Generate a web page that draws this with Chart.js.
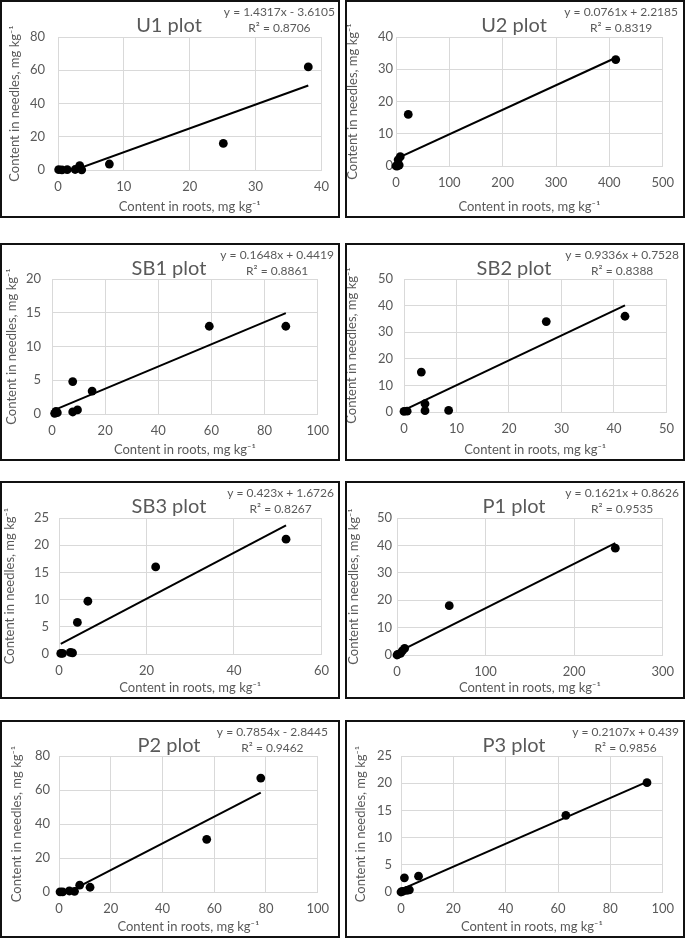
<!DOCTYPE html>
<html>
<head>
<meta charset="utf-8">
<script src="https://cdn.jsdelivr.net/npm/chart.js@4/dist/chart.umd.min.js"></script>
<style>
    body { margin: 0; background: #fff; }
    .panel { position: absolute; width: 340px; height: 218px; box-sizing: border-box; border: 2px solid #111; background: #fff; }
    .panel canvas { display: block; }
</style>
</head>
<body>
<div id="charts"></div>
<script>
// valores (raices, agujas)
const u1Roots = [0.1, 0.6, 1.4, 2.6, 3.3, 3.6, 7.8, 25.1, 38.0];
const u1Needles = [0.2, 0.1, 0.2, 0.3, 2.6, 0.1, 3.6, 16, 62];
const u2Roots = [0, 3, 6, 4, 8, 23, 412];
const u2Needles = [0, 0, 0.3, 1.9, 2.9, 16, 33];
const sb1Roots = [1, 1.5, 2, 7.8, 7.8, 9.6, 15.1, 59.2, 88];
const sb1Needles = [0.1, 0.4, 0.2, 4.8, 0.3, 0.6, 3.4, 13, 13];
const sb2Roots = [0, 0.6, 3.3, 4.0, 4.0, 8.5, 27.1, 42.1];
const sb2Needles = [0.2, 0.3, 15, 3.1, 0.5, 0.6, 34, 36];
const sb3Roots = [0.4, 0.8, 2.6, 3.1, 4.2, 6.6, 22.1, 51.9];
const sb3Needles = [0.1, 0.1, 0.3, 0.2, 5.8, 9.7, 16, 21.1];
const p1Roots = [0, 1, 4, 6, 8.6, 59, 246.5];
const p1Needles = [0, 0.2, 0.6, 1.5, 2.4, 18, 39];
const p2Roots = [0.4, 1.4, 4, 6, 8, 12, 57.1, 78];
const p2Needles = [0.1, 0.1, 0.6, 0.4, 4, 2.8, 31, 67];
const p3Roots = [0, 0.6, 1.3, 2.2, 3.2, 6.7, 63, 94];
const p3Needles = [0, 0.1, 2.6, 0.3, 0.4, 2.9, 14.1, 20.1];

const titulos = ['U1 plot', 'U2 plot', 'SB1 plot', 'SB2 plot', 'SB3 plot', 'P1 plot', 'P2 plot', 'P3 plot'];
const pendientes = [1.4317, 0.0761, 0.1648, 0.9336, 0.423, 0.1621, 0.7854, 0.2107];
const intercepciones = [-3.6105, 2.2185, 0.4419, 0.7528, 1.6726, 0.8626, -2.8445, 0.439];
const ecuaciones = ['y = 1.4317x - 3.6105', 'y = 0.0761x + 2.2185', 'y = 0.1648x + 0.4419', 'y = 0.9336x + 0.7528',
    'y = 0.423x + 1.6726', 'y = 0.1621x + 0.8626', 'y = 0.7854x - 2.8445', 'y = 0.2107x + 0.439'];
const r2Textos = ['R² = 0.8706', 'R² = 0.8319', 'R² = 0.8861', 'R² = 0.8388', 'R² = 0.8267', 'R² = 0.9535', 'R² = 0.9462', 'R² = 0.9856'];
const xMaximos = [40, 500, 100, 50, 60, 300, 100, 100];
const xPasos = [10, 100, 20, 10, 20, 100, 20, 20];
const yMaximos = [80, 40, 20, 50, 25, 50, 80, 25];
const yPasos = [20, 10, 5, 10, 5, 10, 20, 5];

const raices = [u1Roots, u2Roots, sb1Roots, sb2Roots, sb3Roots, p1Roots, p2Roots, p3Roots];
const agujas = [u1Needles, u2Needles, sb1Needles, sb2Needles, sb3Needles, p1Needles, p2Needles, p3Needles];

// posicion de cada panel y su area de trazado [izq, der, arriba, abajo, padTicksY, tituloY_x, ecuacionDer]
const paneles = [[0, 0], [345, 0], [0, 243], [345, 243], [0, 481], [345, 481], [0, 720], [345, 720]];
const areas = [
    [56, 321, 35, 168, 13, 13, 333],
    [49, 318, 35, 164, 3, 6, 331],
    [50, 317, 34, 169, 11, 10, 332],
    [57, 321, 34, 167, 11, 5, 332],
    [57, 321, 35, 171, 10, 8, 332],
    [50, 318, 35, 172, 5, 7, 332],
    [57, 318, 34, 170, 9, 15, 326],
    [54, 318, 34, 170, 9, 14, 332]
];

const ANCHO = 336, ALTO = 214;
const GRIS = '#595959';
const FUENTE = 'Lato';

const etiquetas = {
    id: 'etiquetas',
    afterDraw(chart, args, opts) {
        const ctx = chart.ctx;
        ctx.save();
        ctx.fillStyle = GRIS;
        ctx.textAlign = 'center';
        ctx.textBaseline = 'middle';
        ctx.font = '20px ' + FUENTE;
        ctx.fillText(opts.titulo, 167, 24);
        ctx.font = '12px ' + FUENTE;
        const w = ctx.measureText(opts.ecuacion).width;
        const cx = opts.derecha - w / 2;
        ctx.fillText(opts.ecuacion, cx, 10);
        ctx.fillText(opts.r2, cx, 26);
        ctx.restore();
    }
};

function crearPanel(i) {
    const div = document.createElement('div');
    div.className = 'panel';
    div.style.left = paneles[i][0] + 'px';
    div.style.top = paneles[i][1] + 'px';
    const canvas = document.createElement('canvas');
    canvas.width = ANCHO;
    canvas.height = ALTO;
    div.appendChild(canvas);
    document.getElementById('charts').appendChild(div);

    const [izq, der, arriba, abajo, padY, tituloX, ecDer] = areas[i];
    const xs = raices[i];
    const puntos = xs.map((x, k) => ({x: x, y: agujas[i][k]}));
    const xMin = Math.min(...xs), xMax = Math.max(...xs);
    const tendencia = [xMin, xMax].map(x => ({x: x, y: pendientes[i] * x + intercepciones[i]}));

    new Chart(canvas.getContext('2d'), {
        type: 'scatter',
        data: {
            datasets: [{
                data: puntos,
                backgroundColor: '#000',
                borderColor: '#000',
                pointRadius: 4.4,
                borderWidth: 0,
                clip: false,
                order: 1
            }, {
                type: 'line',
                data: tendencia,
                borderColor: '#000',
                borderWidth: 2,
                pointRadius: 0,
                fill: false,
                order: 2
            }]
        },
        options: {
            responsive: false,
            animation: false,
            layout: { padding: { left: 0, top: arriba, right: ANCHO - der, bottom: 0 } },
            plugins: {
                legend: { display: false },
                tooltip: { enabled: false },
                etiquetas: { titulo: titulos[i], ecuacion: ecuaciones[i], r2: r2Textos[i], derecha: ecDer }
            },
            scales: {
                x: {
                    type: 'linear',
                    min: 0,
                    max: xMaximos[i],
                    grid: { color: '#d9d9d9', drawTicks: false },
                    border: { color: '#d9d9d9' },
                    ticks: { stepSize: xPasos[i], color: GRIS, font: { family: FUENTE, size: 13 }, padding: 9 },
                    title: {
                        display: true,
                        text: 'Content in roots, mg kg⁻¹',
                        color: GRIS,
                        font: { family: FUENTE, size: 13 },
                        padding: { top: 0, bottom: 1 }
                    },
                    afterFit: function(scale) { scale.height = ALTO - abajo; }
                },
                y: {
                    type: 'linear',
                    min: 0,
                    max: yMaximos[i],
                    grid: { color: '#d9d9d9', drawTicks: false },
                    border: { display: false },
                    ticks: { stepSize: yPasos[i], color: GRIS, font: { family: FUENTE, size: 13 }, padding: padY },
                    title: {
                        display: true,
                        text: 'Content in needles, mg kg⁻¹',
                        color: GRIS,
                        font: { family: FUENTE, size: 13 },
                        padding: { top: tituloX - 7.8, bottom: 0 }
                    },
                    afterFit: function(scale) { scale.width = izq; }
                }
            }
        },
        plugins: [etiquetas]
    });
}

for (let i = 0; i < titulos.length; i++) {
    crearPanel(i);
}
</script>
</body>
</html>
